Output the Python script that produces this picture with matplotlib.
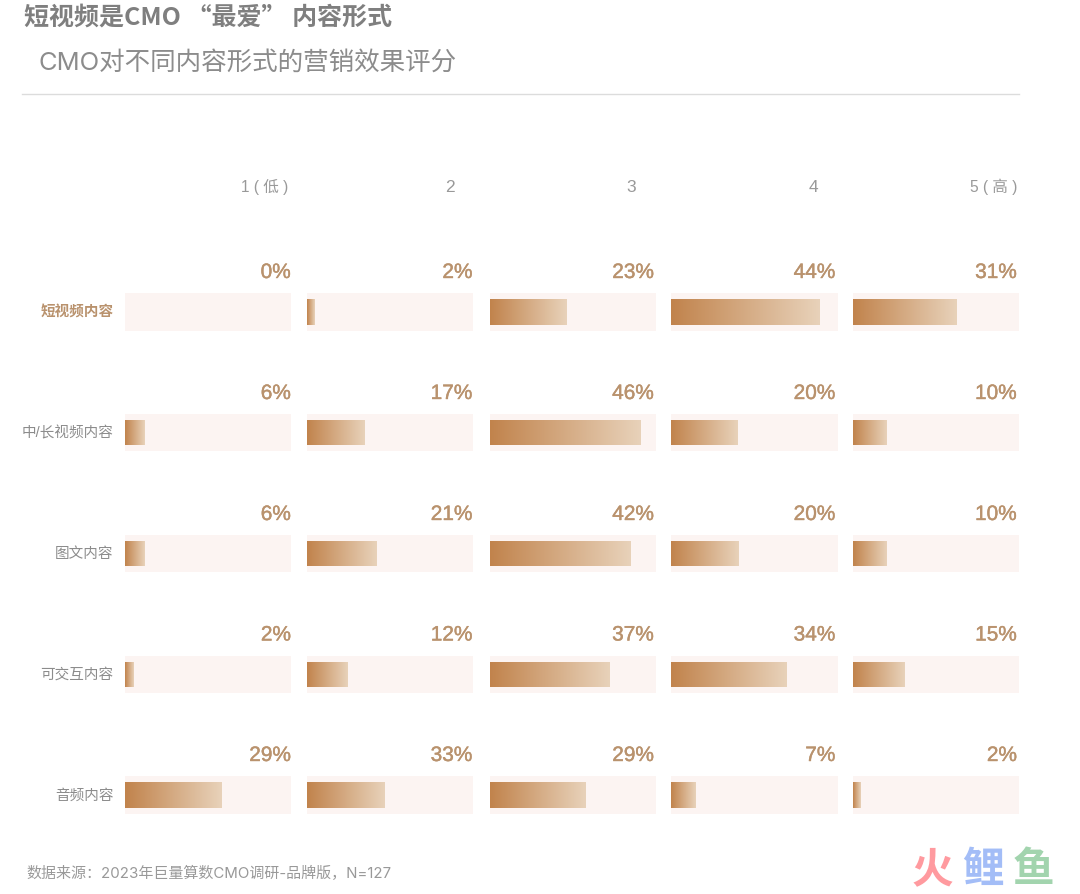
import numpy as np
import matplotlib
matplotlib.use("Agg")
import matplotlib.pyplot as plt
import matplotlib.patheffects as pe
from matplotlib.lines import Line2D
from matplotlib.colors import LinearSegmentedColormap

LATIN = ['Liberation Sans', 'Noto Sans CJK SC', 'DejaVu Sans']
THIN = ['Inter', 'Noto Sans CJK SC', 'DejaVu Sans']
CJK = ['Noto Sans CJK SC', 'DejaVu Sans']
plt.rcParams['font.family'] = LATIN

score_labels = ['1 ( 低 )', '2', '3', '4', '5 ( 高 )']
categories = ['短视频内容', '中/长视频内容', '图文内容', '可交互内容', '音频内容']

# Printed percentage labels
short_video = [0, 2, 23, 44, 31]
long_video = [6, 17, 46, 20, 10]
image_text = [6, 21, 42, 20, 10]
interactive = [2, 12, 37, 34, 15]
audio = [29, 33, 29, 7, 2]
rows = [short_video, long_video, image_text, interactive, audio]

# Bar lengths as drawn in the source; they differ a little from the labels
# (most visibly the audio "33%" bar, drawn at about 23)
short_video_bar = [0, 2.4, 23, 44.4, 31]
long_video_bar = [6, 17.3, 45, 20, 10.2]
image_text_bar = [6, 21, 42, 20.3, 10.2]
interactive_bar = [2.7, 12.2, 35.7, 34.4, 15.4]
audio_bar = [29, 23.3, 28.7, 7.2, 2.4]
bar_rows = [short_video_bar, long_video_bar, image_text_bar, interactive_bar, audio_bar]

W, H = 1080, 894
fig = plt.figure(figsize=(W / 100, H / 100), dpi=100, facecolor='white')

track_x = [(125, 291), (307, 473), (489.5, 656), (671, 838), (853, 1019)]
track_y = [(293, 331), (414, 451.5), (535, 572), (655.5, 693), (776, 814)]
value_right = [291, 472.5, 654, 835.5, 1017]
score_right = [288, 454.5, 636, 818, 1017]
score_size = [11.2, 12.5, 12.5, 12.5, 11.2]
AXIS_MAX = 49.9

TRACK = '#fcf4f2'
LABEL = '#b9926d'
GRAY = '#8c8c8c'
cmap = LinearSegmentedColormap.from_list('bar', ['#c1834c', '#e8d2ba'])
grad = np.linspace(0, 1, 256).reshape(1, -1)
stroke = [pe.withStroke(linewidth=0.3, foreground=LABEL)]

for r, values in enumerate(rows):
    y0, y1 = track_y[r]
    for c, v in enumerate(values):
        x0, x1 = track_x[c]
        length = bar_rows[r][c]
        ax = fig.add_axes([x0 / W, 1 - y1 / H, (x1 - x0) / W, (y1 - y0) / H])
        ax.set_facecolor(TRACK)
        for s in ax.spines.values():
            s.set_visible(False)
        ax.set_xticks([])
        ax.set_yticks([])
        if length > 0:
            bar = ax.barh(0, length, height=0.66, left=0, color='none', align='center')[0]
            im = ax.imshow(grad, extent=[0, length, -0.33, 0.33], aspect='auto', cmap=cmap,
                           vmin=0, vmax=1, zorder=2, interpolation='bilinear')
            im.set_clip_path(bar)
        ax.set_xlim(0, AXIS_MAX)
        ax.set_ylim(-0.5, 0.5)
        fig.text(value_right[c] / W, 1 - (y0 - 20.5) / H, f'{v}%', ha='right', va='center',
                 fontsize=15, color=LABEL, path_effects=stroke)
        if c == 0:
            hl = r == 0
            fig.text(113.5 / W, 1 - ((y0 + y1) / 2 + 0.5) / H, categories[r], ha='right', va='center',
                     fontsize=10.5, color=LABEL if hl else GRAY,
                     fontweight='bold' if hl else 'normal')

for c, s in enumerate(score_labels):
    fig.text(score_right[c] / W, 1 - 187 / H, s, ha='right', va='center',
             fontsize=score_size[c], color='#999999')

fig.text(24 / W, 1 - 18 / H, '短视频是CMO “最爱” 内容形式', ha='left', va='center',
         fontsize=18, fontweight='bold', color='#7f7f7f', family=CJK)
fig.text(38 / W, 1 - 62.5 / H, 'CMO对不同内容形式的营销效果评分', ha='left', va='center',
         fontsize=18.4, color='#8c8c8c', family=THIN)
fig.add_artist(Line2D([22 / W, 1019 / W], [1 - 94 / H] * 2, color='#dcdcdc', lw=1))
fig.text(26 / W, 1 - 873 / H, '数据来源：2023年巨量算数CMO调研-品牌版，N=127', ha='left', va='center',
         fontsize=10.8, color='#999999', family=THIN)

for x, ch, col in [(912, '火', '#ff9a9f'), (962, '鲤', '#a3bdf7'), (1013, '鱼', '#a2d4ae')]:
    fig.text(x / W, 1 - 871 / H, ch, ha='left', va='center', fontsize=30, fontweight='black', color=col)

fig.savefig('out.png', dpi=100)
